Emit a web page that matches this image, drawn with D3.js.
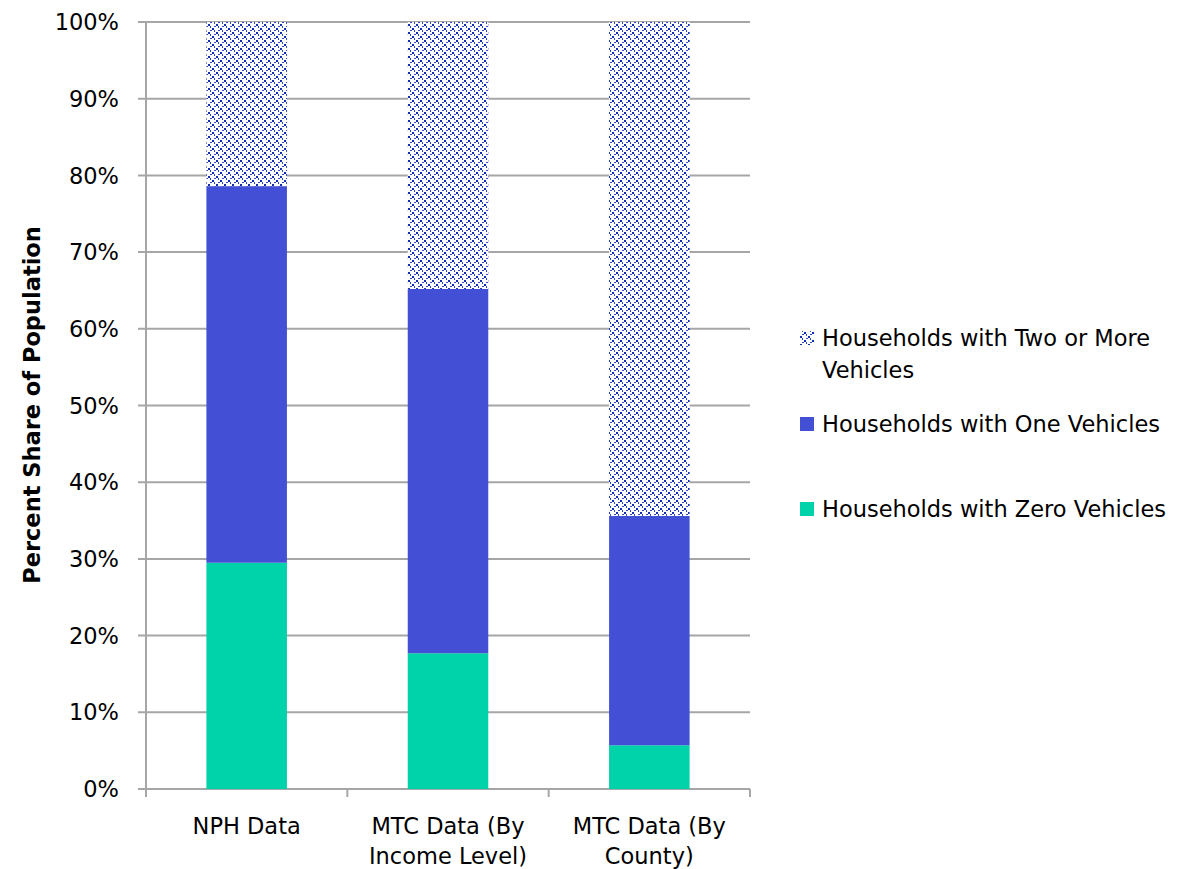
<!DOCTYPE html>
<html><head><meta charset="utf-8">
<script src="https://cdn.jsdelivr.net/npm/d3@7"></script>
<style>body{margin:0;background:#fff}svg{display:block}text{font-family:"DejaVu Sans",sans-serif}</style>
</head><body><svg id="c" width="1180" height="869"></svg>
<script>
const categories = [["NPH Data"], ["MTC Data (By", "Income Level)"], ["MTC Data (By", "County)"]];
const zeroVeh = [29.5, 17.7, 5.7];
const oneVeh = [49.1, 47.5, 29.9];
const twoVeh = [21.4, 34.8, 64.4];
const yTicks = [0,10,20,30,40,50,60,70,80,90,100];

const svg = d3.select("#c");
const L=146, R=750, T=22, B=789;
const x = d3.scaleBand().domain(d3.range(categories.length)).range([L,R]).paddingInner(0.6).paddingOuter(0.3);
const y = d3.scaleLinear().domain([0,100]).range([B,T]);
const grey="#A6A6A6";
const FS=22.5;

const defs = svg.append("defs");
const pat = defs.append("pattern").attr("id","dots").attr("patternUnits","userSpaceOnUse").attr("width",8).attr("height",8);
pat.append("rect").attr("width",8).attr("height",8).attr("fill","#fff");
[[0,0,2,2,"#0F2EB8"],[4,4,2,2,"#0F2EB8"],[2,2,1,2,"#2F48C4"],[6,6,1,2,"#2F48C4"],[6,2,2,1,"#2F48C4"],[2,6,2,1,"#2F48C4"]].forEach(d=>pat.append("rect").attr("x",d[0]).attr("y",d[1]).attr("width",d[2]).attr("height",d[3]).attr("fill",d[4]));

svg.append("g").selectAll("line").data(yTicks).join("line")
 .attr("x1",L-8).attr("x2",R).attr("y1",d=>y(d)).attr("y2",d=>y(d)).attr("stroke",grey).attr("stroke-width",2);
svg.append("g").selectAll("text").data(yTicks).join("text")
 .attr("x",119).attr("y",d=>y(d)).attr("dy","0.36em").attr("text-anchor","end").attr("font-size",FS).attr("fill","#000").text(d=>d+"%");
svg.append("line").attr("x1",L).attr("x2",L).attr("y1",T).attr("y2",B+8).attr("stroke",grey).attr("stroke-width",2);
const xt=[0,1,2,3].map(i=>L+(R-L)*i/3);
svg.append("g").selectAll("line").data(xt).join("line").attr("x1",d=>d).attr("x2",d=>d).attr("y1",B).attr("y2",B+8).attr("stroke",grey).attr("stroke-width",2);

const fills=["#00D2AA","#4350D5","url(#dots)"];
const stacks=[zeroVeh,oneVeh,twoVeh];
categories.forEach((c,i)=>{
  let base=0;
  stacks.forEach((s,k)=>{
    svg.append("rect").attr("x",x(i)).attr("width",x.bandwidth()).attr("y",y(base+s[i])).attr("height",y(base)-y(base+s[i])).attr("fill",fills[k]);
    base+=s[i];
  });
});
categories.forEach((c,i)=>{
  const cx=x(i)+x.bandwidth()/2;
  const t=svg.append("text").attr("x",cx).attr("y",834).attr("text-anchor","middle").attr("font-size",FS);
  c.forEach((l,j)=>t.append("tspan").attr("x",cx).attr("dy",j?30:0).text(l));
});
svg.append("text").attr("transform","translate(40,405) rotate(-90)").attr("text-anchor","middle").attr("font-size",FS).attr("font-weight","bold").text("Percent Share of Population");

const leg=[{n:["Households with Two or More","Vehicles"],f:"url(#dots)",y:338},{n:["Households with One Vehicles"],f:"#4350D5",y:424},{n:["Households with Zero Vehicles"],f:"#00D2AA",y:509}];
leg.forEach(d=>{
  svg.append("rect").attr("x",800).attr("y",d.y-7).attr("width",14).attr("height",14).attr("fill",d.f);
  const t=svg.append("text").attr("x",822).attr("y",d.y).attr("font-size",FS);
  d.n.forEach((l,j)=>t.append("tspan").attr("x",822).attr("dy",j?32:"0.36em").text(l));
});
</script></body></html>
